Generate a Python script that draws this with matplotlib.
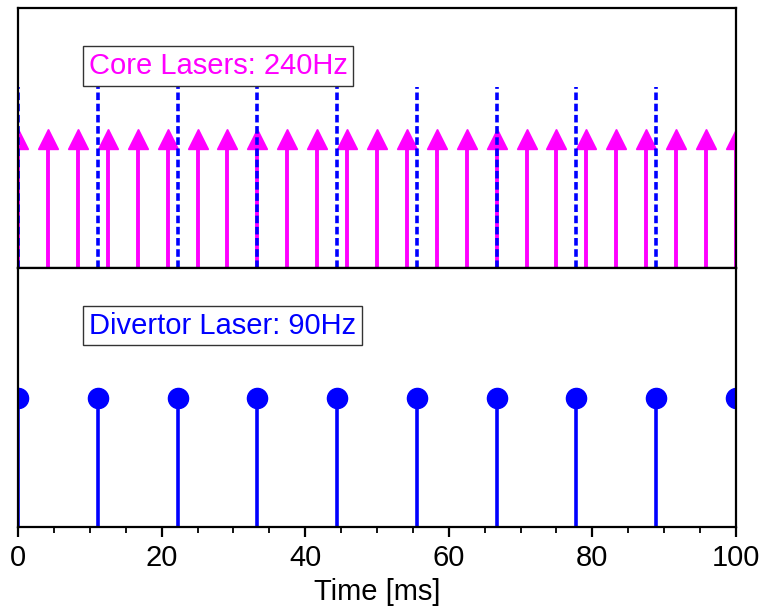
import matplotlib
matplotlib.use("Agg")
import matplotlib.pyplot as plt
from matplotlib.ticker import MultipleLocator

plt.rcParams['font.family'] = ['Liberation Sans', 'DejaVu Sans']

# Data (ms)
core_times = [0, 4.17, 8.33, 12.5, 16.67, 20.83, 25, 29.17, 33.33, 37.5, 41.67,
              45.83, 50, 54.17, 58.33, 62.5, 66.67, 70.83, 75, 79.17, 83.33,
              87.5, 91.67, 95.83, 100]
divertor_times = [0, 11.11, 22.22, 33.33, 44.44, 55.56, 66.67, 77.78, 88.89, 100]
core_label = "Core Lasers: 240Hz"
divertor_label = "Divertor Laser: 90Hz"
xticks = [0, 20, 40, 60, 80, 100]

MAGENTA = '#ff00ff'
BLUE = '#0000ff'
FS = 21

fig = plt.figure(figsize=(7.63, 6.15), dpi=100)
ax1 = fig.add_axes([0.0236, 0.5642, 0.941, 0.4228])
ax2 = fig.add_axes([0.0236, 0.1431, 0.941, 0.4211], sharex=ax1)

for ax in (ax1, ax2):
    ax.set_xlim(0, 100)
    ax.set_ylim(0, 1)
    ax.set_yticks([])
    for s in ax.spines.values():
        s.set_linewidth(1.6)
        s.set_zorder(5)

# Top panel: arrows
arrow_base = 0.46
arrow_tip = 0.53
ax1.vlines(core_times, 0, arrow_base + 0.01, color=MAGENTA, lw=2.8, zorder=2)
ax1.plot(core_times, [(arrow_base + arrow_tip) / 2] * len(core_times), ls='none',
         marker='^', ms=14.5, color=MAGENTA, mec=MAGENTA, zorder=2)
# dashed divertor markers (the pulse at 100 ms sits on the frame edge)
ax1.vlines(divertor_times[:-1], 0, 0.696, color=BLUE, lw=2.6,
           linestyles=(0, (2.1, 1.0)), zorder=3)
ax1.tick_params(axis='x', which='both', bottom=False, labelbottom=False)
ax1.text(0.0983, 0.777, core_label, transform=ax1.transAxes, fontsize=FS,
         color=MAGENTA, ha='left', va='center',
         bbox=dict(boxstyle='square,pad=0.2', fc='white', ec='#333333', lw=1.0))

# Bottom panel: stems with dots
ax2.vlines(divertor_times[:-1], 0, 0.50, color=BLUE, lw=2.6, zorder=2)
ax2.plot(divertor_times, [0.50] * len(divertor_times), ls='none', marker='o',
         ms=14.5, color=BLUE, mec=BLUE, zorder=3)
ax2.text(0.0983, 0.778, divertor_label, transform=ax2.transAxes, fontsize=FS,
         color=BLUE, ha='left', va='center',
         bbox=dict(boxstyle='square,pad=0.2', fc='white', ec='#333333', lw=1.0))

ax2.set_xticks(xticks)
ax2.xaxis.set_minor_locator(MultipleLocator(5))
ax2.tick_params(axis='x', which='major', direction='out', length=7.5, width=1.6,
                labelsize=FS, pad=5)
ax2.tick_params(axis='x', which='minor', direction='out', length=4, width=1.3)
ax2.set_xlabel("Time [ms]", fontsize=FS, labelpad=4)

fig.savefig("out.png", dpi=100)
